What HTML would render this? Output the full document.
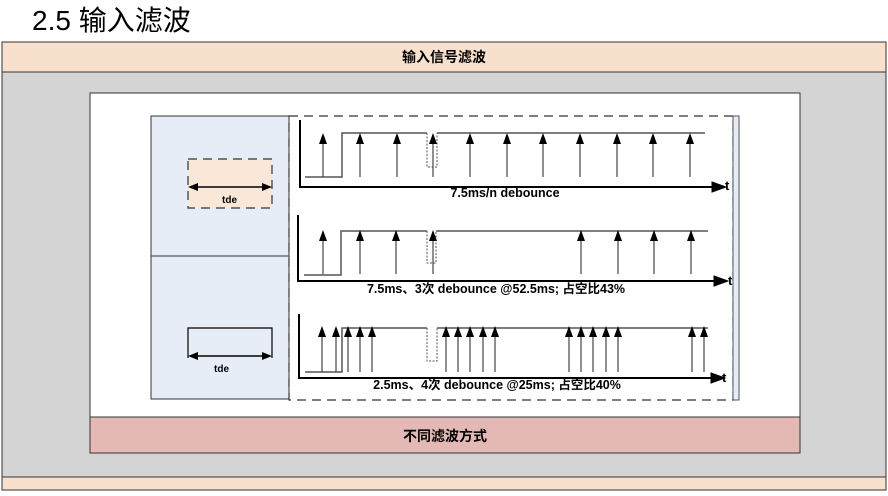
<!DOCTYPE html>
<html><head><meta charset="utf-8"><style>
body{margin:0;width:888px;height:496px;background:#fff;overflow:hidden}
svg{display:block}
text{font-family:"Liberation Sans","Noto Sans CJK SC",sans-serif}
</style></head><body>
<svg width="888" height="496" viewBox="0 0 888 496">
<defs>
<g id="ar"><line x1="0" y1="4" x2="0" y2="44" stroke="#444" stroke-width="1.2"/><polygon points="0,0 -4,11 4,11" fill="#000"/></g>
<g id="ar2"><line x1="0" y1="4" x2="0" y2="46" stroke="#444" stroke-width="1.2"/><polygon points="0,0 -4,11 4,11" fill="#000"/></g>
</defs>
<text x="32" y="30" font-size="28" fill="#000">2.5 输入滤波</text>
<rect x="2" y="42" width="884" height="448" fill="#d4d4d4" stroke="#333" stroke-width="1"/>
<rect x="2" y="42" width="884" height="30" fill="#f8e1cc" stroke="#333" stroke-width="1"/>
<text x="444" y="62" font-size="14" font-weight="bold" text-anchor="middle" fill="#000">输入信号滤波</text>
<rect x="2" y="477" width="884" height="13" fill="#f8e1cc" stroke="#333" stroke-width="1"/>
<rect x="90" y="93" width="710" height="324" fill="#fff" stroke="#333" stroke-width="1"/>
<rect x="90" y="417" width="710" height="36" fill="#e4b8b4" stroke="#333" stroke-width="1"/>
<text x="445" y="441" font-size="14" font-weight="bold" text-anchor="middle" fill="#000">不同滤波方式</text>
<rect x="151" y="116" width="138" height="283" fill="#e6edf6" stroke="#333" stroke-width="1"/>
<line x1="151" y1="256" x2="289" y2="256" stroke="#333"/>
<rect x="188" y="159" width="84" height="49" fill="#fbe7d7" stroke="#333" stroke-width="1.2" stroke-dasharray="9,6"/>
<line x1="196" y1="187" x2="264" y2="187" stroke="#000" stroke-width="1.5"/>
<polygon points="188,187 198,183 198,191" fill="#000"/><polygon points="272,187 262,183 262,191" fill="#000"/>
<text x="222" y="203" font-size="10" font-weight="bold">tde</text>
<path d="M188,358 V328 H272 V358" fill="none" stroke="#000" stroke-width="1.2"/>
<line x1="196" y1="356" x2="264" y2="356" stroke="#000" stroke-width="1.5"/>
<polygon points="188,356 198,352 198,360" fill="#000"/><polygon points="272,356 262,352 262,360" fill="#000"/>
<text x="214" y="372" font-size="10" font-weight="bold">tde</text>
<rect x="289" y="116" width="444" height="284" fill="none" stroke="#333" stroke-width="1.2" stroke-dasharray="9,6"/>
<rect x="733" y="116" width="6" height="284" fill="#e6edf6" stroke="#555" stroke-width="1"/>
<g fill="none" stroke="#000">
<path d="M300,120 V187 H712" stroke-width="2"/>
<polygon points="712,182 726,187 712,192" fill="#000"/>
<path d="M305,177 H342 V133 H427" stroke="#555" stroke-width="1.5"/>
<path d="M427,133 V167 H437 V133" stroke="#555" stroke-dasharray="2,1.5"/>
<path d="M437,133 H705" stroke="#555" stroke-width="1.5"/>
</g>
<text x="725" y="190" font-size="13" font-weight="bold">t</text>
<text x="505" y="197" font-size="12.5" font-weight="bold" text-anchor="middle">7.5ms/n debounce</text>
<g transform="translate(0,133)">
<use href="#ar" x="323"/><use href="#ar" x="360"/><use href="#ar" x="397"/><use href="#ar" x="433"/><use href="#ar" x="470"/><use href="#ar" x="507"/><use href="#ar" x="543"/><use href="#ar" x="580"/><use href="#ar" x="617"/><use href="#ar" x="653"/><use href="#ar" x="690"/>
</g>
<g fill="none" stroke="#000">
<path d="M298,215 V281 H716" stroke-width="2"/>
<polygon points="714,276 728,281 714,286" fill="#000"/>
<path d="M304,275 H341 V231 H427" stroke="#555" stroke-width="1.5"/>
<path d="M427,231 V263 H436 V231" stroke="#555" stroke-dasharray="2,1.5"/>
<path d="M436,231 H708" stroke="#555" stroke-width="1.5"/>
</g>
<text x="728" y="285" font-size="13" font-weight="bold">t</text>
<text x="496" y="293" font-size="12.5" font-weight="bold" text-anchor="middle">7.5ms、3次 debounce @52.5ms; 占空比43%</text>
<g transform="translate(0,230)">
<use href="#ar" x="323"/><use href="#ar" x="360"/><use href="#ar" x="396"/><use href="#ar" x="433"/><use href="#ar" x="581"/><use href="#ar" x="618"/><use href="#ar" x="654"/><use href="#ar" x="691"/>
</g>
<g fill="none" stroke="#000">
<path d="M299,314 V378 H713" stroke-width="2"/>
<polygon points="711,373 725,378 711,383" fill="#000"/>
<path d="M305,372 H342 V328 H427" stroke="#555" stroke-width="1.5"/>
<path d="M427,328 V361 H437 V328" stroke="#555" stroke-dasharray="2,1.5"/>
<path d="M437,328 H708" stroke="#555" stroke-width="1.5"/>
</g>
<text x="722" y="382" font-size="13" font-weight="bold">t</text>
<text x="497" y="389" font-size="12.5" font-weight="bold" text-anchor="middle">2.5ms、4次 debounce @25ms; 占空比40%</text>
<g transform="translate(0,326)">
<use href="#ar2" x="322"/><use href="#ar2" x="336"/><use href="#ar2" x="348"/><use href="#ar2" x="360"/><use href="#ar2" x="372"/>
<use href="#ar2" x="446"/><use href="#ar2" x="458"/><use href="#ar2" x="470"/><use href="#ar2" x="483"/><use href="#ar2" x="495"/>
<use href="#ar2" x="569"/><use href="#ar2" x="581"/><use href="#ar2" x="593"/><use href="#ar2" x="606"/><use href="#ar2" x="618"/>
<use href="#ar2" x="692"/><use href="#ar2" x="704"/>
</g>
</svg>
</body></html>
